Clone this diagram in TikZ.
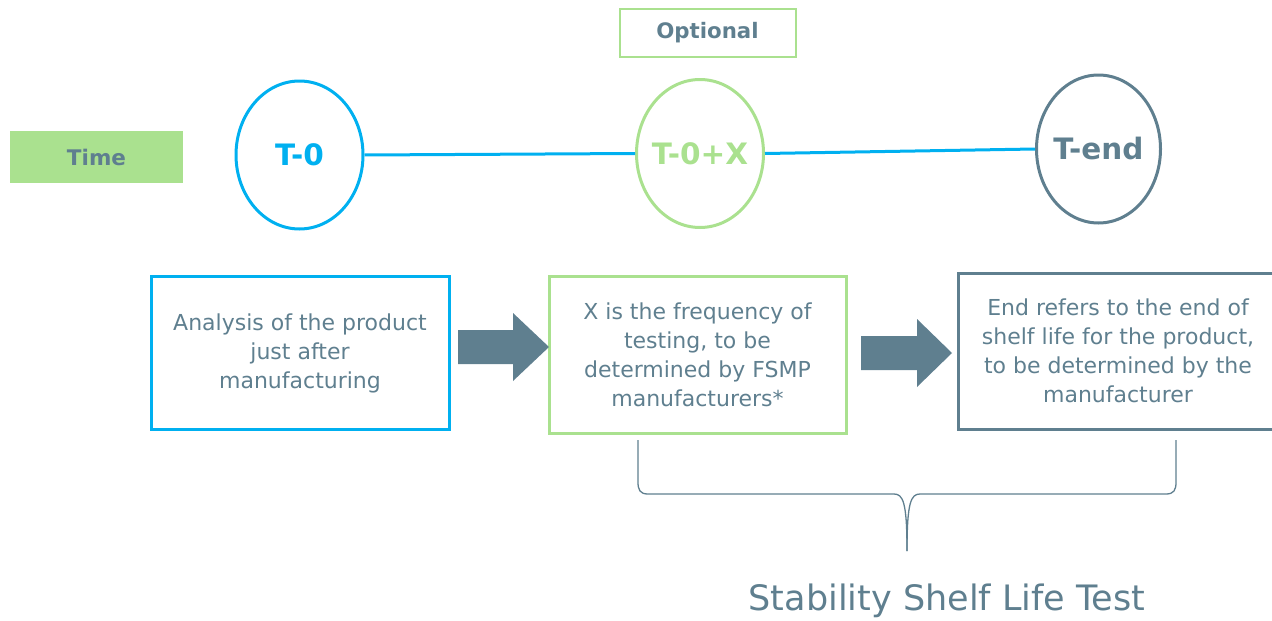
\documentclass[tikz,border=0pt]{standalone}
\usepackage{fontspec}
\setmainfont{DejaVu Sans}
\usetikzlibrary{shapes.geometric}
\definecolor{slate}{HTML}{5F7F8F}
\definecolor{sky}{HTML}{00B0F0}
\definecolor{leaf}{HTML}{AAE18F}
\tikzset{
  stage/.style={ellipse, draw, line width=3pt, inner sep=0pt,
    minimum width=127pt, minimum height=148pt,
    font=\fontsize{29.5}{32}\selectfont\bfseries},
  infobox/.style={draw, line width=3pt, inner sep=0pt, align=center,
    text=slate, font=\fontsize{22}{29}\selectfont},
  timeline/.style={sky, line width=3pt},
  blockarrow/.style={fill=slate, draw=none},
}
% zero-width label so the ellipse size is set only by its minimum size
\newcommand{\stagetext}[1]{\makebox[0pt]{#1}}
\begin{document}
\begin{tikzpicture}[x=1pt,y=-1pt]
\useasboundingbox (0,0) rectangle (1272,621);

% row labels
\node[fill=leaf, minimum width=173pt, minimum height=52pt, inner sep=0pt,
  text=slate, font=\fontsize{21.5}{24}\selectfont\bfseries] (time) at (96.5,157) {Time};
\node[draw=leaf, line width=2pt, minimum width=176pt, minimum height=48pt, inner sep=0pt,
  text=slate, font=\fontsize{21.3}{24}\selectfont\bfseries] (optional) at (707.5,33)
  {\raisebox{-2pt}{Optional}};

% time points
\node[stage, draw=sky, text=sky] (t0) at (299.5,155) {\stagetext{T-0}};
\node[stage, draw=leaf, text=leaf] (tx) at (700,153.5) {\stagetext{T-0+X}};
\node[stage, draw=slate, text=slate, minimum width=124pt] (tend) at (1098.5,149) {\stagetext{T-end}};

\draw[timeline] (t0.east) -- (tx.west);
\draw[timeline] (tx.east) -- (tend.west);

% descriptions
\node[infobox, draw=sky, minimum width=298pt, minimum height=153pt] (b1) at (300,353)
  {Analysis of the product\\just after\\manufacturing};
\node[infobox, draw=leaf, minimum width=297pt, minimum height=157pt] (b2) at (697.5,354.5)
  {X is the frequency of\\testing, to be\\determined by FSMP\\manufacturers*};
\node[infobox, draw=slate, minimum width=320pt, minimum height=156pt] (b3) at (1118,351)
  {End refers to the end of\\shelf life for the product,\\to be determined by the\\manufacturer};

% block arrows between descriptions
\fill[blockarrow] (458,330) -- (513,330) -- (513,313) -- (549,347) -- (513,381)
  -- (513,364) -- (458,364) -- cycle;
\fill[blockarrow] (861,336) -- (917,336) -- (917,319) -- (952,353) -- (917,387)
  -- (917,370) -- (861,370) -- cycle;

% brace over T-0+X .. T-end
\coordinate (bl) at (638,440);
\coordinate (br) at (1176,440);
\coordinate (bm) at (907,551);
\draw[slate, line width=1.3pt]
  (bl) -- (638,482) .. controls (638,490) and (640,494) .. (648,494)
  -- (894,494) .. controls (903,494) and (907,502) .. (bm);
\draw[slate, line width=1.3pt]
  (br) -- (1176,482) .. controls (1176,490) and (1174,494) .. (1166,494)
  -- (920,494) .. controls (911,494) and (907,502) .. (bm);

\node[text=slate, font=\fontsize{35}{40}\selectfont, inner sep=0pt] (caption) at (947,601)
  {Stability Shelf Life Test};
\end{tikzpicture}
\end{document}
